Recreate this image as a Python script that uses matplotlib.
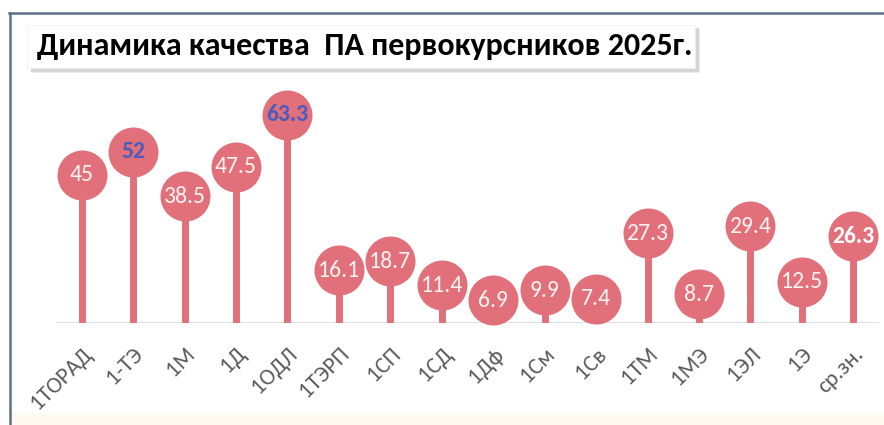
import matplotlib
matplotlib.use("Agg")
import matplotlib.pyplot as plt
from matplotlib.patches import Rectangle
from matplotlib.lines import Line2D

categories = ["1ТОРАД", "1-ТЭ", "1М", "1Д", "1ОДЛ", "1ТЭРП", "1СП", "1СД",
              "1Дф", "1См", "1Св", "1ТМ", "1МЭ", "1ЭЛ", "1Э", "ср.зн."]
values = [45, 52, 38.5, 47.5, 63.3, 16.1, 18.7, 11.4, 6.9, 9.9, 7.4,
          27.3, 8.7, 29.4, 12.5, 26.3]
highlight_blue = ["1-ТЭ", "1ОДЛ"]
highlight_bold = ["ср.зн."]
title = "Динамика качества  ПА первокурсников 2025г."

plt.rcParams['font.family'] = ['Carlito', 'Open Sans', 'DejaVu Sans']
W, H = 884, 425
fig = plt.figure(figsize=(W / 100, H / 100), dpi=100)
fig.patch.set_facecolor("white")

# frame decorations
fig.add_artist(Rectangle((12 / W, 0), 1, 12 / H, transform=fig.transFigure,
                         facecolor="#fffaf0", edgecolor="none"))
fig.add_artist(Line2D([9 / W, 1], [1 - 12.5 / H, 1 - 12.5 / H], transform=fig.transFigure,
                      color="#5d7187", lw=1.8))
fig.add_artist(Line2D([10 / W, 10 / W], [0, 1 - 12.5 / H], transform=fig.transFigure,
                      color="#5d7187", lw=1.8))

# title box with shadow
bx0, by0, bx1, by1 = 27, 25, 695, 68
for off, col in [(5, "#ececec"), (3.5, "#d4d4d4")]:
    fig.add_artist(Rectangle(((bx0 + off) / W, 1 - (by1 + off) / H), (bx1 - bx0) / W,
                             (by1 - by0) / H, transform=fig.transFigure,
                             facecolor=col, edgecolor="none"))
fig.add_artist(Rectangle((bx0 / W, 1 - by1 / H), (bx1 - bx0) / W, (by1 - by0) / H,
                         transform=fig.transFigure, facecolor="white", edgecolor="#f0f0f0", lw=0.5))
fig.text(37 / W, 1 - 55 / H, title, ha="left", va="baseline", fontsize=23,
         fontweight="bold", color="black")

# axes
base_y = 323
top_y = 90
ax = fig.add_axes([56 / W, 1 - base_y / H, (879 - 56) / W, (base_y - top_y) / H])
ax.set_xlim(-0.5, len(categories) - 0.5)
ax.set_ylim(0, (base_y - top_y) / 3.29)
ax.axis("off")
ax.axhline(0, color="#d9d9d9", lw=1.2, zorder=1)

color = "#e1707a"
x = list(range(len(categories)))
ax.vlines(x, 0, values, color=color, lw=5, zorder=2)
ax.plot(x, values, "o", ms=36, color=color, mec="none", zorder=3, clip_on=False)

for xi, cat, v in zip(x, categories, values):
    txt = f"{v:g}"
    if cat in highlight_blue:
        ax.text(xi, v, txt, ha="center", va="center", fontsize=17, fontweight="bold",
                color="#4a5cbf", zorder=4)
    elif cat in highlight_bold:
        ax.text(xi, v, txt, ha="center", va="center", fontsize=17, fontweight="bold",
                color="white", zorder=4)
    else:
        ax.text(xi, v, txt, ha="center", va="center", fontsize=17,
                color="#fdf3f3", zorder=4)
    ax.annotate(cat, (xi, 0), xytext=(5, -20), textcoords="offset points",
                rotation=45, rotation_mode="anchor", ha="right", va="center",
                fontsize=16.5, color="#595959")

fig.savefig("out.png", dpi=100)
